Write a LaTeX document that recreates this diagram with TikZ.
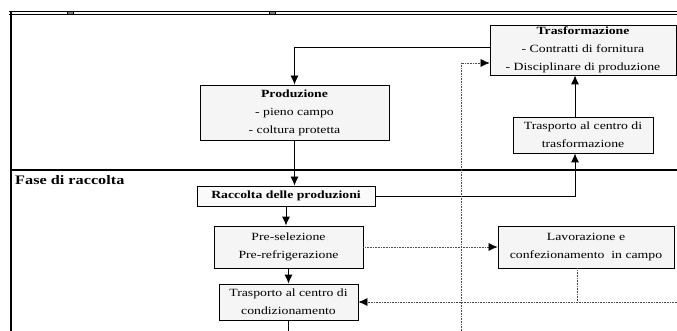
\documentclass[tikz,border=0pt]{standalone}
\usepackage{fontspec}
\setmainfont[FakeStretch=1.25]{Liberation Serif}
\usetikzlibrary{arrows.meta}

\tikzstyle{box} = [align=center,draw=black,thick,fill=gray!8,rectangle,font=\fontsize{11}{18}\selectfont,inner sep=0pt]
\tikzstyle{link} = [thick,-{Latex[length=9pt,width=8pt]}]
\tikzstyle{dots} = [densely dotted,gray!60!black,semithick,-{Latex[length=9pt,width=8pt,black]}]

\begin{document}
\begin{tikzpicture}[x=1pt,y=-1pt]
	\useasboundingbox (0,0) rectangle (677,331);
	% frame
	\draw [line width=1.8pt] (11,12) -- (11,331);
	\draw [semithick] (9,11.5) -- (677,11.5);
	\draw [semithick] (9,14.5) -- (677,14.5);
	\draw [line width=1.4pt] (11,170) -- (677,170);
	\foreach \x in {70,272} \draw [fill=gray] (\x-3,11.5) rectangle (\x+3,14.5);
	\node (fase) [anchor=west,font=\fontsize{13}{15}\selectfont\bfseries,inner sep=0pt] at (15,180) {Fase di raccolta};
	% top row
	\node (trasformazione) [box,minimum width=186pt,minimum height=50pt] at (583,50) {\textbf{Trasformazione}\\- Contratti di fornitura\\- Disciplinare di produzione};
	\node (produzione) [box,minimum width=189pt,minimum height=55pt] at (294.5,112.5) {\textbf{Produzione}\\- pieno campo\\- coltura protetta};
	\node (trasptrasf) [box,minimum width=140pt,minimum height=36pt] at (583,135) {Trasporto al centro di\\trasformazione};
	% harvest phase
	\node (raccolta) [box,fill=gray!4,minimum width=178pt,minimum height=20pt] at (286,196) {\textbf{Raccolta delle produzioni}};
	\node (preselezione) [box,minimum width=149pt,minimum height=42pt] at (288.5,247) {Pre-selezione\\Pre-refrigerazione};
	\node (traspcond) [box,minimum width=139pt,minimum height=36pt] at (288.5,302) {Trasporto al centro di\\condizionamento};
	\node (lavorazione) [box,minimum width=176pt,minimum height=42pt] at (586,247) {Lavorazione e\\confezionamento\ \ in campo};
	% free ends
	\coordinate (bottom) at (288.5,331);
	\coordinate (dotbottom) at (461,331);
	\coordinate (dotright) at (677,302);
	% connections
	\draw [link] ([yshift=3pt]trasformazione.west) -| (produzione.north);
	\draw [link] (produzione.south) -- (produzione.south |- raccolta.north);
	\draw [link] (raccolta.south) -- (raccolta.south |- preselezione.north);
	\draw [link] (preselezione.south) -- (traspcond.north);
	\draw [thick] (traspcond.south) -- (bottom);
	\draw [link] (raccolta.east) -| ([xshift=-8pt]trasptrasf.south);
	\draw [link] ([xshift=-8pt]trasptrasf.north) -- ([xshift=-8pt]trasformazione.south);
	% dotted connections
	\draw [dots] (dotbottom) |- ([yshift=-13pt]trasformazione.west);
	\draw [dots] (preselezione.east) -- (lavorazione.west);
	\draw [dots] (dotright) -- (traspcond.east);
	\draw [dots,-] ([xshift=-9pt]lavorazione.south) -- ([xshift=-9pt]lavorazione.south |- dotright);
\end{tikzpicture}
\end{document}
